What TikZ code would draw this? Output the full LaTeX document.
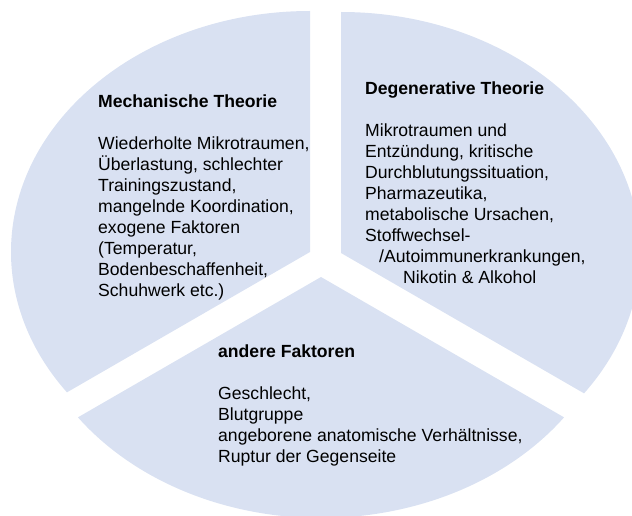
\documentclass[tikz,border=0pt]{standalone}
\usepackage{fontspec}
\setmainfont{Liberation Sans}
\definecolor{slice}{HTML}{D9E1F2}
\begin{document}
\begin{tikzpicture}[x=1pt,y=1pt,
  sector/.style={fill=slice},
  blocktext/.style={anchor=base west, inner sep=0pt, align=left,
    font=\fontsize{17.6}{21}\selectfont}]
\useasboundingbox (0,0) rectangle (632,515);
\clip (0,0) rectangle (632,515);
% apexes of the three exploded sectors
\coordinate (L) at (310,263);
\coordinate (R) at (341,262);
\coordinate (B) at (321,238);
% left sector: 90 deg to 210 deg
\fill[sector] (L) -- ++(0,241pt)
  arc[start angle=90, end angle=215.62, x radius=299pt, y radius=241pt] -- cycle;
% right sector: 90 deg to -30 deg
\fill[sector] (R) -- ++(0,241pt)
  arc[start angle=90, end angle=-35.62, x radius=299pt, y radius=241pt] -- cycle;
% bottom sector: 210 deg to 330 deg
\fill[sector] (B) -- ++(215.62:299pt and 241pt)
  arc[start angle=215.62, end angle=324.38, x radius=299pt, y radius=241pt] -- cycle;

% text blocks, placed by the baseline of their last line
\node[blocktext] (mech) at (98,218.3) {\textbf{Mechanische Theorie}\\[21pt]
Wiederholte Mikrotraumen,\\
Überlastung, schlechter\\
Trainingszustand,\\
mangelnde Koordination,\\
exogene Faktoren\\
(Temperatur,\\
Bodenbeschaffenheit,\\
Schuhwerk etc.)};

\node[blocktext] (degen) at (365,231.7) {\textbf{Degenerative Theorie}\\[21pt]
Mikrotraumen und\\
Entzündung, kritische\\
Durchblutungssituation,\\
Pharmazeutika,\\
metabolische Ursachen,\\
Stoffwechsel-\\
\hspace*{14pt}/Autoimmunerkrankungen,\\
\hspace*{38pt}Nikotin \& Alkohol};

\node[blocktext] (other) at (218,53) {\textbf{andere Faktoren}\\[21pt]
Geschlecht,\\
Blutgruppe\\
angeborene anatomische Verhältnisse,\\
Ruptur der Gegenseite};
\end{tikzpicture}
\end{document}
